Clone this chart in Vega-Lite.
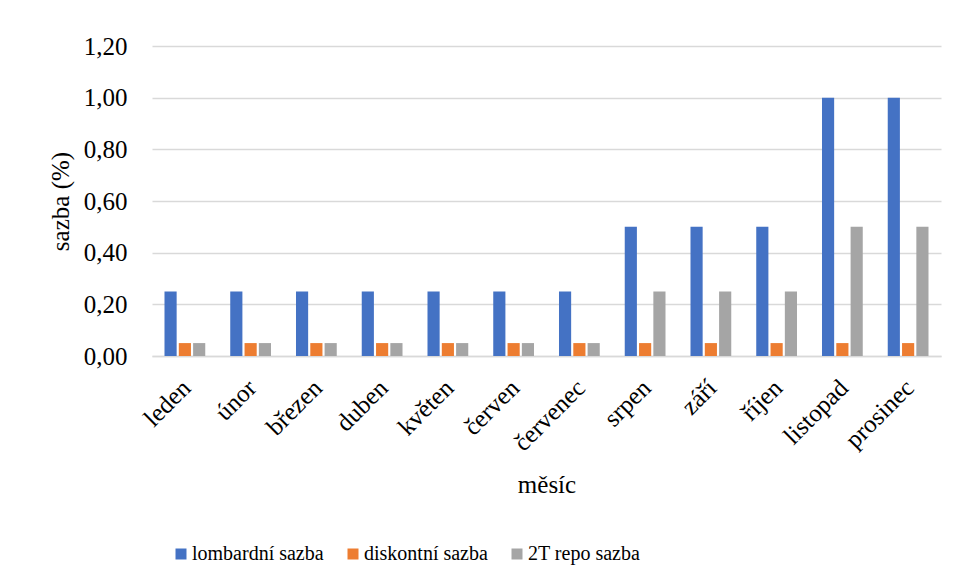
{
  "$schema": "https://vega.github.io/schema/vega-lite/v6.json",
  "width": 789,
  "height": 310,
  "autosize": {"type": "none"},
  "padding": {"left": 152, "top": 46, "right": 16, "bottom": 230},
  "background": "white",
  "config": {
    "font": "Times New Roman, Liberation Serif, serif",
    "view": {"stroke": null},
    "axis": {"labelFont": "Times New Roman, Liberation Serif, serif", "titleFont": "Times New Roman, Liberation Serif, serif", "labelColor": "#000000", "titleColor": "#000000", "titleFontWeight": "normal"},
    "legend": {"labelFont": "Times New Roman, Liberation Serif, serif", "labelColor": "#000000"}
  },
  "data": {
    "values": [
      {"mesic": "leden", "serie": "lombardní sazba", "sazba": 0.25},
      {"mesic": "leden", "serie": "diskontní sazba", "sazba": 0.05},
      {"mesic": "leden", "serie": "2T repo sazba", "sazba": 0.05},
      {"mesic": "únor", "serie": "lombardní sazba", "sazba": 0.25},
      {"mesic": "únor", "serie": "diskontní sazba", "sazba": 0.05},
      {"mesic": "únor", "serie": "2T repo sazba", "sazba": 0.05},
      {"mesic": "březen", "serie": "lombardní sazba", "sazba": 0.25},
      {"mesic": "březen", "serie": "diskontní sazba", "sazba": 0.05},
      {"mesic": "březen", "serie": "2T repo sazba", "sazba": 0.05},
      {"mesic": "duben", "serie": "lombardní sazba", "sazba": 0.25},
      {"mesic": "duben", "serie": "diskontní sazba", "sazba": 0.05},
      {"mesic": "duben", "serie": "2T repo sazba", "sazba": 0.05},
      {"mesic": "květen", "serie": "lombardní sazba", "sazba": 0.25},
      {"mesic": "květen", "serie": "diskontní sazba", "sazba": 0.05},
      {"mesic": "květen", "serie": "2T repo sazba", "sazba": 0.05},
      {"mesic": "červen", "serie": "lombardní sazba", "sazba": 0.25},
      {"mesic": "červen", "serie": "diskontní sazba", "sazba": 0.05},
      {"mesic": "červen", "serie": "2T repo sazba", "sazba": 0.05},
      {"mesic": "červenec", "serie": "lombardní sazba", "sazba": 0.25},
      {"mesic": "červenec", "serie": "diskontní sazba", "sazba": 0.05},
      {"mesic": "červenec", "serie": "2T repo sazba", "sazba": 0.05},
      {"mesic": "srpen", "serie": "lombardní sazba", "sazba": 0.5},
      {"mesic": "srpen", "serie": "diskontní sazba", "sazba": 0.05},
      {"mesic": "srpen", "serie": "2T repo sazba", "sazba": 0.25},
      {"mesic": "září", "serie": "lombardní sazba", "sazba": 0.5},
      {"mesic": "září", "serie": "diskontní sazba", "sazba": 0.05},
      {"mesic": "září", "serie": "2T repo sazba", "sazba": 0.25},
      {"mesic": "říjen", "serie": "lombardní sazba", "sazba": 0.5},
      {"mesic": "říjen", "serie": "diskontní sazba", "sazba": 0.05},
      {"mesic": "říjen", "serie": "2T repo sazba", "sazba": 0.25},
      {"mesic": "listopad", "serie": "lombardní sazba", "sazba": 1.0},
      {"mesic": "listopad", "serie": "diskontní sazba", "sazba": 0.05},
      {"mesic": "listopad", "serie": "2T repo sazba", "sazba": 0.5},
      {"mesic": "prosinec", "serie": "lombardní sazba", "sazba": 1.0},
      {"mesic": "prosinec", "serie": "diskontní sazba", "sazba": 0.05},
      {"mesic": "prosinec", "serie": "2T repo sazba", "sazba": 0.5}
    ]
  },
  "mark": {"type": "bar"},
  "encoding": {
    "x": {
      "field": "mesic",
      "type": "nominal",
      "sort": null,
      "scale": {"paddingInner": 0.38, "paddingOuter": 0.19},
      "axis": {
        "title": "měsíc",
        "titleFontSize": 25,
        "titlePadding": 17,
        "labelFontSize": 25,
        "labelAngle": -45,
        "labelPadding": 19,
        "labelOffset": -7,
        "ticks": false,
        "domainColor": "#D9D9D9",
        "domainWidth": 1.5
      }
    },
    "xOffset": {
      "field": "serie",
      "type": "nominal",
      "sort": null,
      "scale": {"paddingInner": 0.15}
    },
    "y": {
      "field": "sazba",
      "type": "quantitative",
      "scale": {"domain": [0, 1.2], "nice": false},
      "axis": {
        "title": "sazba (%)",
        "titleFontSize": 25,
        "titlePadding": 10,
        "labelFontSize": 25,
        "labelPadding": 25,
        "values": [0, 0.2, 0.4, 0.6, 0.8, 1.0, 1.2],
        "labelExpr": "replace(format(datum.value, '.2f'), '.', ',')",
        "ticks": false,
        "domain": false,
        "gridColor": "#D9D9D9",
        "gridWidth": 1.5
      }
    },
    "color": {
      "field": "serie",
      "type": "nominal",
      "sort": null,
      "scale": {
        "domain": ["lombardní sazba", "diskontní sazba", "2T repo sazba"],
        "range": ["#4472C4", "#ED7D31", "#A5A5A5"]
      },
      "legend": {
        "title": null,
        "orient": "none",
        "direction": "horizontal",
        "legendX": 19,
        "legendY": 498,
        "padding": 0,
        "labelFontSize": 20,
        "labelFont": "Times New Roman, Liberation Serif, serif",
        "symbolType": "square",
        "symbolSize": 121,
        "symbolStrokeWidth": 0,
        "labelOffset": 1,
        "columnPadding": 19
      }
    }
  }
}
